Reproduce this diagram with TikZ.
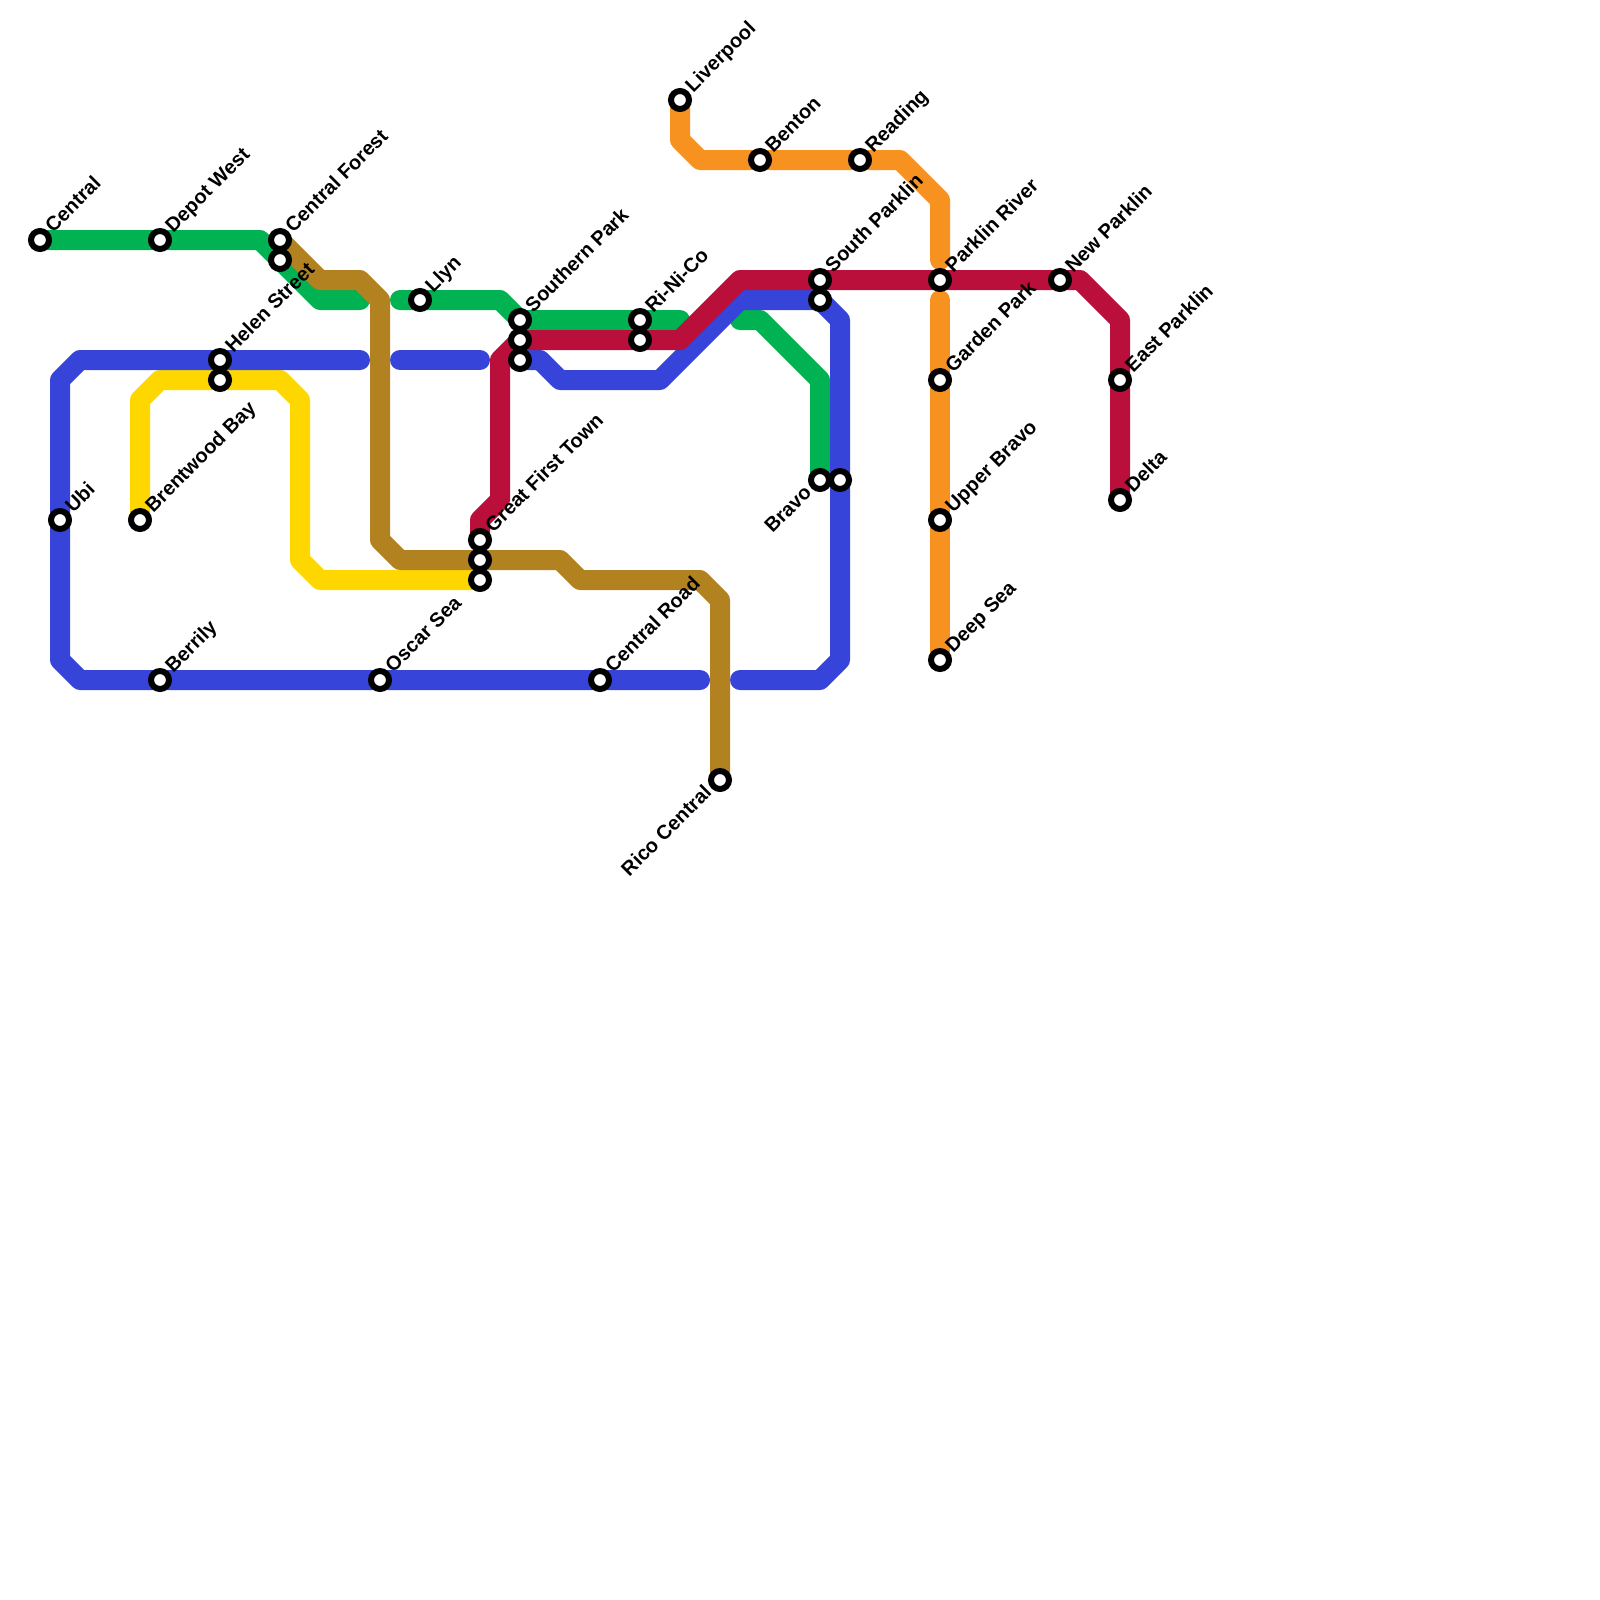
\documentclass[tikz,border=0pt]{standalone}
\usepackage{fontspec}
\setmainfont{Liberation Sans}
\usepackage{xcolor}
\usetikzlibrary{backgrounds}
\definecolor{metrogreen}{RGB}{0, 178, 81}
\definecolor{metroblue}{RGB}{54, 68, 217}
\definecolor{metroyellow}{RGB}{255, 215, 0}
\definecolor{metrobrown}{RGB}{179, 130, 32}
\definecolor{metrored}{RGB}{186, 15, 59}
\definecolor{metroorange}{RGB}{247, 146, 32}
\tikzset{
	station/.style={circle, draw=black, fill=white, line width=0.075cm, inner sep=0pt, minimum size=0.225cm},
	stname/.style={rotate=45, yshift=1pt, anchor=mid west, font=\bfseries\fontsize{7.1}{8}\selectfont, inner sep=0.6pt},
	stnameleft/.style={rotate=45, yshift=1pt, anchor=mid east, font=\bfseries\fontsize{7.1}{8}\selectfont, inner sep=0.9pt},
	metroline/.style={line width=0.25cm, line cap=round, line join=round}
}

\begin{document}
\begin{tikzpicture}[x=0.25cm, y=-0.25cm]
			\useasboundingbox (0,0) rectangle (80,80);

			% -- Stations --
			\node[station, label={[stname]45:Central}] (central) at (2,12) {};
			\node[station, label={[stname]45:Depot West}] (depotwest) at (8,12) {};
			\node[station, label={[stname]45:Central Forest}] (centralforest) at (14,12) {};
			\node[station] (centralforestb) at (14,13) {};
			\node[station, label={[stname]45:Helen Street}] (helen) at (11,18) {};
			\node[station] (helenb) at (11,19) {};
			\node[station, label={[stname]45:Llyn}] (llyn) at (21,15) {};
			\node[station, label={[stname]45:Ubi}] (ubi) at (3,26) {};
			\node[station, label={[stname]45:Brentwood Bay}] (brentwood) at (7,26) {};
			\node[station, label={[stname]45:Berrily}] (berrily) at (8,34) {};
			\node[station, label={[stname]45:Oscar Sea}] (oscar) at (19,34) {};
			\node[station, label={[stname]45:Central Road}] (centralroad) at (30,34) {};
			\node[station, label={[stname]45:Great First Town}] (greatfirst) at (24,27) {};
			\node[station] (greatfirstb) at (24,28) {};
			\node[station] (greatfirstc) at (24,29) {};
			\node[station, label={[stname]45:Southern Park}] (southern) at (26,16) {};
			\node[station] (southernb) at (26,17) {};
			\node[station] (southernc) at (26,18) {};
			\node[station, label={[stname]45:Ri-Ni-Co}] (rinico) at (32,16) {};
			\node[station] (rinicob) at (32,17) {};
			\node[station, label={[stnameleft]225:Rico Central}] (rico) at (36,39) {};
			\node[station, label={[stname]45:Liverpool}] (liverpool) at (34,5) {};
			\node[station, label={[stname]45:Benton}] (benton) at (38,8) {};
			\node[station, label={[stname]45:Reading}] (reading) at (43,8) {};
			\node[station, label={[stname]45:South Parklin}] (southparklin) at (41,14) {};
			\node[station] (southparklinb) at (41,15) {};
			\node[station, label={[stnameleft]225:Bravo}] (bravo) at (41,24) {};
			\node[station] (bravob) at (42,24) {};
			\node[station, label={[stname]45:Parklin River}] (parklinriver) at (47,14) {};
			\node[station, label={[stname]45:Garden Park}] (garden) at (47,19) {};
			\node[station, label={[stname]45:Upper Bravo}] (upperbravo) at (47,26) {};
			\node[station, label={[stname]45:Deep Sea}] (deepsea) at (47,33) {};
			\node[station, label={[stname]45:New Parklin}] (newparklin) at (53,14) {};
			\node[station, label={[stname]45:East Parklin}] (eastparklin) at (56,19) {};
			\node[station, label={[stname]45:Delta}] (delta) at (56,25) {};

			\begin{scope}[on background layer]
			% -- Green --
			\draw[metroline, metrogreen] (central.center) -- (13,12) -- (centralforestb.center) -- (16,15) -- (18,15);
			\draw[metroline, metrogreen] (20,15) -- (25,15) -- (southern.center) -- (34,16);
			\draw[metroline, metrogreen] (37,16) -- (38,16) -- (41,19) -- (bravo.center);

			% -- Yellow --
			\draw[metroline, metroyellow] (brentwood.center) -- (7,20) -- (8,19) -- (14,19) -- (15,20) -- (15,28) -- (16,29) -- (greatfirstc.center);

			% -- Blue --
			\draw[metroline, metroblue] (18,18) -- (4,18) -- (3,19) -- (3,33) -- (4,34) -- (35,34);
			\draw[metroline, metroblue] (20,18) -- (24,18);
			\draw[metroline, metroblue] (37,34) -- (41,34) -- (42,33) -- (42,16) -- (41,15) -- (37,15) -- (33,19) -- (28,19) -- (27,18) -- (southernc.center);

			% -- Brown --
			\draw[metroline, metrobrown] (centralforest.center) -- (16,14) -- (18,14) -- (19,15) -- (19,27) -- (20,28) -- (28,28) -- (29,29) -- (35,29) -- (36,30) -- (rico.center);

			% -- Red --
			\draw[metroline, metrored] (greatfirst.center) -- (24,26) -- (25,25) -- (25,18) -- (southernb.center) -- (34,17) -- (37,14) -- (54,14) -- (56,16) -- (delta.center);

			% -- Orange --
			\draw[metroline, metroorange] (liverpool.center) -- (34,7) -- (35,8) -- (45,8) -- (47,10) -- (47,13);
			\draw[metroline, metroorange] (47,15) -- (deepsea.center);
			\end{scope}
		\end{tikzpicture}
\end{document}
